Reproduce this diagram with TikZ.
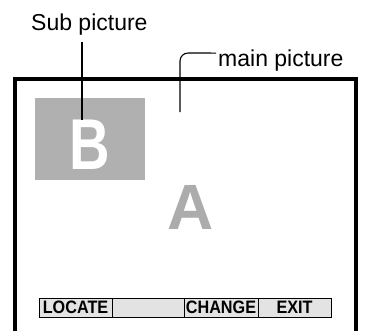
\documentclass[tikz,border=0pt]{standalone}
\usepackage{fontspec}
\setmainfont{Liberation Sans}
\begin{document}
\begin{tikzpicture}[x=1pt,y=-1pt,
  lbl/.style={font=\fontsize{23}{23}\selectfont,inner sep=0pt},
  bigletter/.style={font=\bfseries\fontsize{72}{72}\selectfont,inner sep=0pt},
  softkey/.style={draw,line width=0.9pt,fill=gray!22,minimum height=19pt,inner sep=0pt,
    font=\bfseries\fontsize{18}{18}\selectfont}]
\useasboundingbox (0,0) rectangle (366,330);
% screen frame, open at the bottom
\draw[line width=4pt] (15,340) -- (15,79) -- (355.5,79) -- (355.5,340);
% sub picture
\fill[gray!62] (35,98) rectangle (145,180);
\node[bigletter,text=white,xscale=0.78] (letterB) at (90,145) {B};
% main picture
\node[bigletter,text=gray!65,font=\bfseries\fontsize{64}{64}\selectfont] (letterA) at (191,207) {A};
% labels
\node[lbl,anchor=base west] (sublbl) at (31,30) {Sub picture};
\node[lbl,anchor=base west] (mainlbl) at (218,66) {main picture};
\coordinate (subpt) at (82,120);
\coordinate (mainknee) at (180,53);
\coordinate (mainpt) at (180,112);
\draw[line width=1.1pt] ([yshift=-7pt]sublbl.south -| subpt) -- (subpt);
\draw[line width=1.1pt,rounded corners=8pt] ([xshift=-2pt,yshift=7pt]mainlbl.west) -- (mainknee) -- (mainpt);
% soft keys
\node[softkey,minimum width=73pt] (locate) at (75.5,307.5) {\scalebox{0.9}[1]{LOCATE}};
\node[softkey,minimum width=72pt] (blank) at (148,307.5) {};
\node[softkey,minimum width=74pt] (change) at (221,307.5) {\scalebox{0.9}[1]{CHANGE}};
\node[softkey,minimum width=73pt] (exit) at (294.5,307.5) {\scalebox{0.9}[1]{EXIT}};
\end{tikzpicture}
\end{document}
